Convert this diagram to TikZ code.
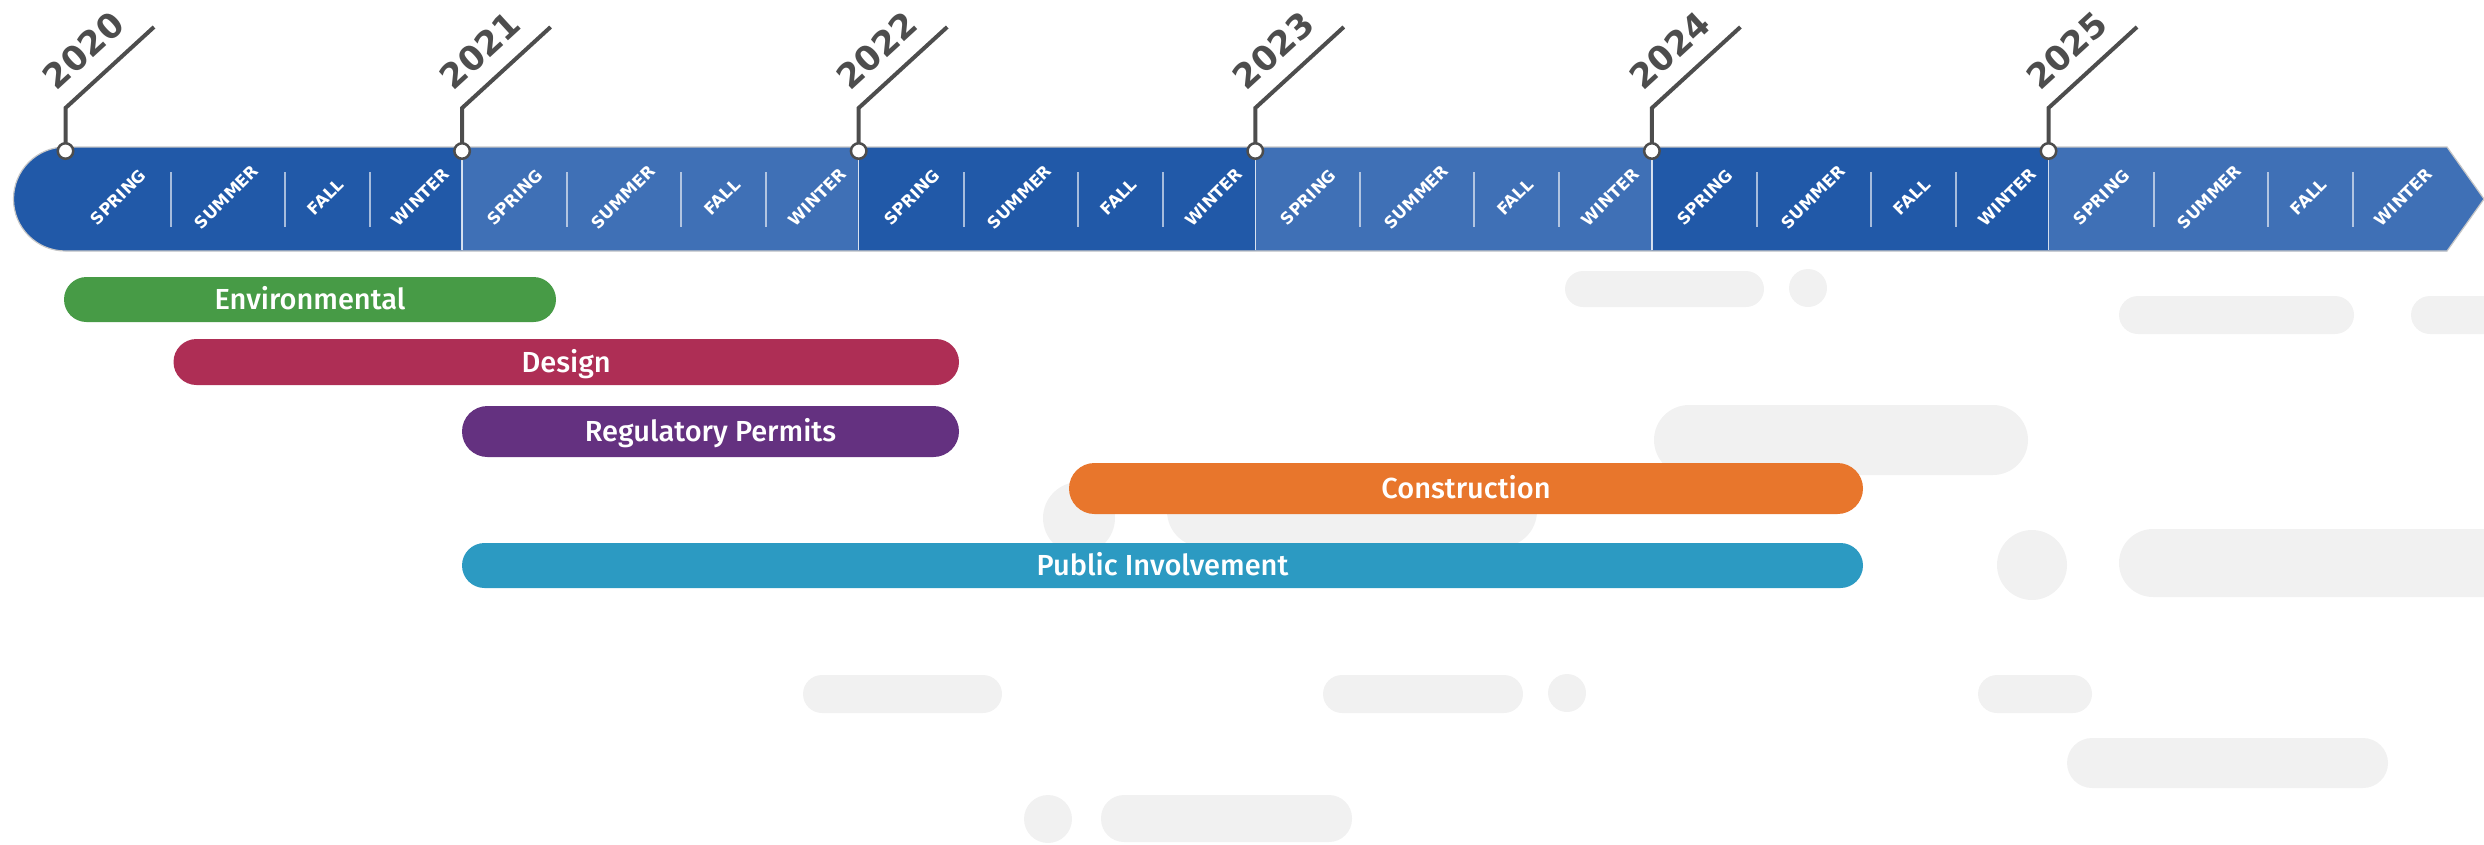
\documentclass[tikz,border=0pt]{standalone}
\usepackage{fontspec}
\usetikzlibrary{positioning}
\newfontfamily\barfont{Fira Sans Medium}
\newfontfamily\labfont{DejaVu Sans}

\definecolor{bandA}{RGB}{33,89,168}
\definecolor{bandB}{RGB}{63,112,182}
\definecolor{tickgray}{RGB}{77,77,77}
\definecolor{ghost}{RGB}{241,241,241}
\definecolor{envgreen}{RGB}{71,155,70}
\definecolor{designred}{RGB}{174,46,85}
\definecolor{permitpurple}{RGB}{100,49,128}
\definecolor{buildorange}{RGB}{232,118,44}
\definecolor{publicblue}{RGB}{44,154,194}

\begin{document}
\begin{tikzpicture}[x=1pt,y=-1pt, every node/.append style={inner sep=0pt},
                    bar/.style 2 args={fill=#1, minimum height=#2pt, rounded corners=#2*0.5pt,
                                       text=white, text height=20pt, text depth=0pt,
                                       font=\barfont\fontsize{29}{29}\selectfont},
                    season/.style={text=white, rotate=45, font=\labfont\bfseries\fontsize{16.5}{16.5}\selectfont},
                    yearlbl/.style={text=tickgray, rotate=42.5, font=\labfont\bfseries\fontsize{34}{34}\selectfont},
                    tick/.style={draw=tickgray, line width=4pt},
                    yeardot/.style={circle, draw=tickgray, fill=white, line width=2.5pt, minimum size=15.5pt},
                    divider/.style={draw=white, opacity=0.6, line width=2pt}]

\useasboundingbox (0,0) rectangle (2484,844);

% faded pills in the background
\fill[ghost, rounded corners=18pt] (1565,271) rectangle (1764,307);
\fill[ghost] (1808,288) circle (19);
\fill[ghost, rounded corners=19pt] (2119,296) rectangle (2354,334);
\fill[ghost, rounded corners=19pt] (2411,296) rectangle (2530,334);
\fill[ghost, rounded corners=35pt] (1654,405) rectangle (2028,475);
\fill[ghost] (1079,518) circle (36);
\fill[ghost, rounded corners=36pt] (1167,475) rectangle (1537,547);
\fill[ghost] (2032,565) circle (35);
\fill[ghost, rounded corners=34pt] (2119,529) rectangle (2560,597);
\fill[ghost, rounded corners=19pt] (803,675) rectangle (1002,713);
\fill[ghost, rounded corners=19pt] (1323,675) rectangle (1523,713);
\fill[ghost] (1567,693) circle (19);
\fill[ghost, rounded corners=19pt] (1978,675) rectangle (2092,713);
\fill[ghost, rounded corners=25pt] (2067,738) rectangle (2388,788);
\fill[ghost] (1048,819) circle (24);
\fill[ghost, rounded corners=23pt] (1101,795) rectangle (1352,842);

% timeline band
\fill[bandA] (65.5,147) -- (2447,147) -- (2484,199) -- (2447,251) -- (65.5,251)
             arc[start angle=90, end angle=270, radius=52] -- cycle;
\foreach \k in {1,3}
  \fill[bandB] (65.5+396.6*\k,147) rectangle ++(396.6,104);
\fill[bandB] (2048.5,147) -- (2447,147) -- (2484,199) -- (2447,251) -- (2048.5,251) -- cycle;
\draw[black!22, line width=1.2pt] (65.5,147) -- (2447,147) -- (2484,199) -- (2447,251) -- (65.5,251)
             arc[start angle=90, end angle=270, radius=52] -- cycle;

% seasons
\foreach \k in {0,...,5} {
  \pgfmathsetmacro\x{65.5+396.6*\k}
  \ifnum\k>0 \draw[draw=white, opacity=0.8, line width=1.5pt] (\x,148) -- (\x,250); \fi
  \draw[divider] (\x+105,172) -- (\x+105,227);
  \draw[divider] (\x+219,172) -- (\x+219,227);
  \draw[divider] (\x+304,172) -- (\x+304,227);
  \node[season] (sp\k) at (\x+53,197) {SPRING};
  \node[season] (su\k) at (\x+161,197) {SUMMER};
  \node[season] (fa\k) at (\x+260,197) {FALL};
  \node[season] (wi\k) at (\x+355,197) {WINTER};
}

% year ticks
\foreach \yr [count=\k from 0] in {2020,...,2025} {
  \coordinate (t\yr) at (65.5+396.6*\k,151);
  \draw[tick] (t\yr) -- ++(0,-43) -- ++(88.5,-81) coordinate (e\yr);
  \node[yeardot] (d\yr) at (t\yr) {};
  \node[yearlbl] (y\yr) at (65.5+396.6*\k+18,50) {\yr};
}

% tasks
\node[bar={envgreen}{45}, minimum width=492pt] (env) at (310,299.5) {Environmental};
\node[bar={designred}{46}, minimum width=785.5pt] (design) at (566.25,362) {Design};
\node[bar={permitpurple}{51}, minimum width=497pt] (permits) at (710.5,431.5) {Regulatory Permits};
\node[bar={buildorange}{51}, minimum width=794pt] (build) at (1466,488.5) {Construction};
\node[bar={publicblue}{45}, minimum width=1401pt] (public) at (1162.5,565.5) {Public Involvement};

\end{tikzpicture}
\end{document}
